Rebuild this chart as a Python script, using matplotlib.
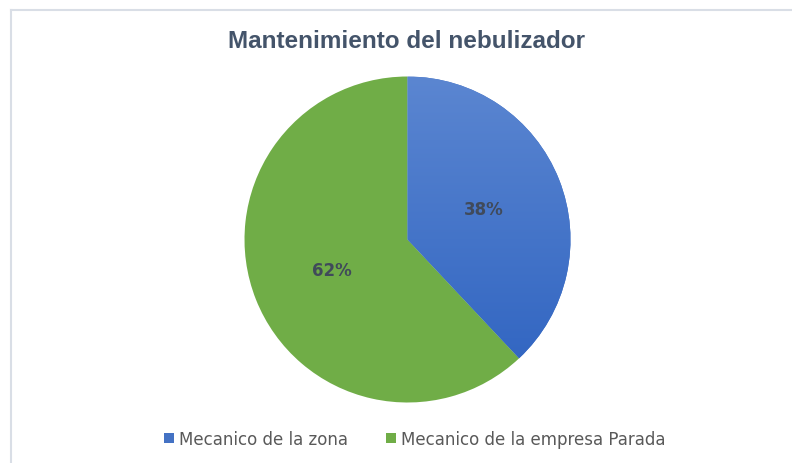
import numpy as np
import matplotlib.pyplot as plt
from matplotlib.patches import Patch
from matplotlib.lines import Line2D
from matplotlib.colors import LinearSegmentedColormap

labels = ['Mecanico de la zona', 'Mecanico de la empresa Parada']
values = [38, 62]
colors = ['#4472C4', '#70AD47']

W, H = 792, 464
fig = plt.figure(figsize=(W / 100, H / 100), dpi=100)
fig.patch.set_facecolor('white')

# borde del gráfico (solo arriba e izquierda visibles)
fig.add_artist(Line2D([11 / W, 11 / W], [0, 1 - 10.5 / H], transform=fig.transFigure,
                      color='#D9DEE6', lw=1.5))
fig.add_artist(Line2D([11 / W, 1], [1 - 10.5 / H, 1 - 10.5 / H], transform=fig.transFigure,
                      color='#D9DEE6', lw=1.5))

# pastel
cx, cy, r = 407.5, 240.5, 163
ax = fig.add_axes([(cx - r) / W, (H - cy - r) / H, 2 * r / W, 2 * r / H])
wedges, texts, autotexts = ax.pie(values, colors=colors, startangle=90, counterclock=False,
                                  autopct='%1.0f%%', pctdistance=0.5, radius=1,
                                  wedgeprops=dict(linewidth=0),
                                  textprops=dict(color='#404A5A', fontsize=12, fontweight='bold'))
ax.set_xlim(-1, 1)
ax.set_ylim(-1, 1)
ax.set_aspect('equal')

# degradado azul en la primera porción
grad = np.linspace(0, 1, 256).reshape(-1, 1)
cm_blue = LinearSegmentedColormap.from_list('b', ['#5B86D1', '#2D62C0'])
im = ax.imshow(grad, cmap=cm_blue, extent=[-1, 1, -1, 1], origin='upper',
               aspect='auto', zorder=wedges[0].get_zorder())
im.set_clip_path(wedges[0])
for t in autotexts:
    t.set_zorder(5)

fig.text(407 / W, 1 - 42 / H, 'Mantenimiento del nebulizador', ha='center', va='center',
         fontsize=17.5, fontweight='bold', color='#44546A', family='Liberation Sans')

handles = [Patch(facecolor=c, edgecolor='none') for c in colors]
fig.legend(handles, labels, loc='center', bbox_to_anchor=(415 / W, 1 - 440 / H), ncol=2,
           frameon=False, fontsize=12, handlelength=0.6, handleheight=0.6,
           handletextpad=0.3, columnspacing=2.3, labelcolor='#595959')

fig.savefig('out.png', dpi=100)
